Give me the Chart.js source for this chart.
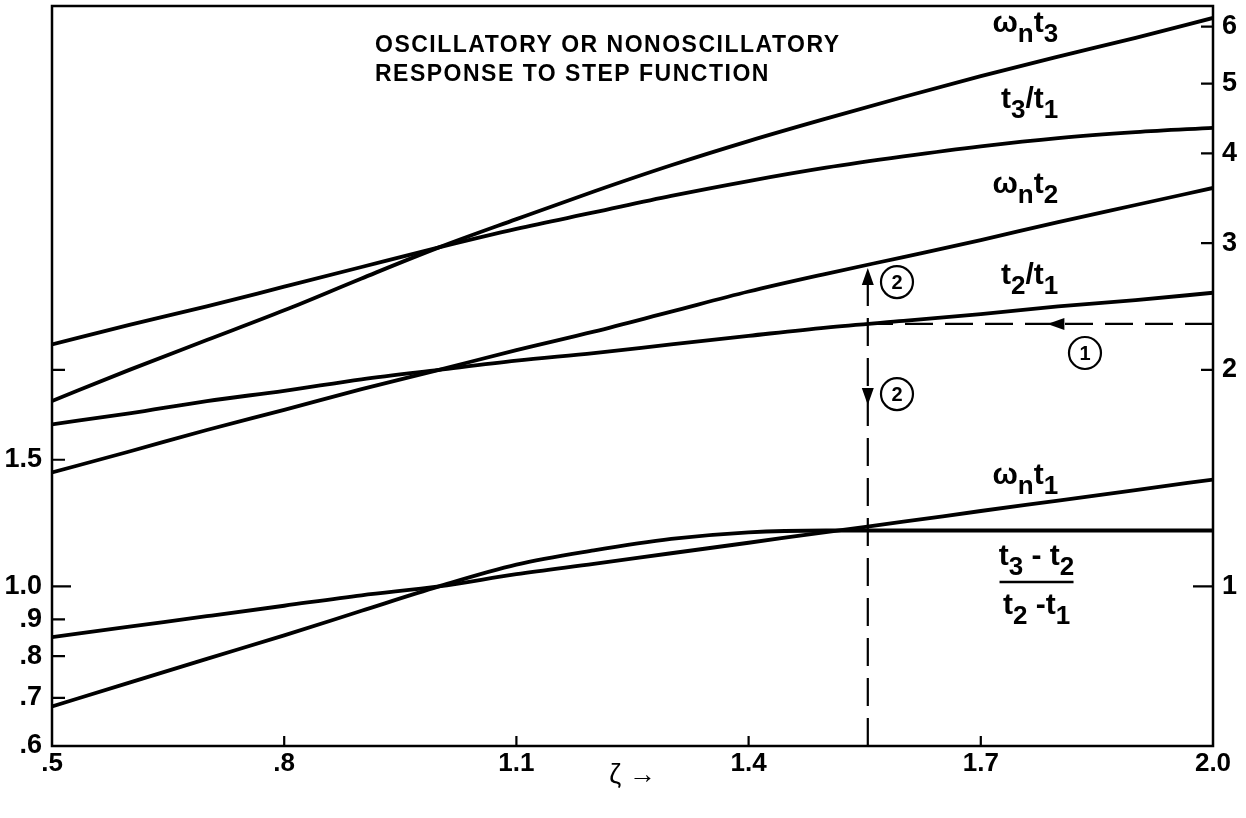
<!DOCTYPE html>
<html>
<head>
<meta charset="utf-8">
<script src="https://cdn.jsdelivr.net/npm/chart.js@4.4.1/dist/chart.umd.min.js"></script>
<style>
html,body{margin:0;padding:0;background:#fff;}
#wrap{width:1246px;height:818px;}
</style>
</head>
<body>
<div id="wrap"><canvas id="c" width="1246" height="818"></canvas></div>
<script>
// ---- data ----
const zeta        = [0.5, 0.6, 0.7, 0.8, 0.9, 1.0, 1.1, 1.2, 1.3, 1.4, 1.5, 1.6, 1.7, 1.8, 1.9, 2.0];
const wnT3        = [1.81, 2.00, 2.20, 2.42, 2.68, 2.96, 3.24, 3.54, 3.85, 4.16, 4.47, 4.79, 5.12, 5.45, 5.79, 6.17];
const t3OverT1    = [2.17, 2.31, 2.45, 2.61, 2.78, 2.96, 3.14, 3.31, 3.49, 3.66, 3.82, 3.96, 4.09, 4.20, 4.28, 4.34];
const wnT2        = [1.44, 1.54, 1.65, 1.76, 1.88, 2.00, 2.13, 2.26, 2.41, 2.57, 2.72, 2.87, 3.03, 3.21, 3.39, 3.58];
const t2OverT1    = [1.68, 1.74, 1.81, 1.87, 1.94, 2.00, 2.06, 2.11, 2.17, 2.23, 2.29, 2.34, 2.39, 2.45, 2.50, 2.56];
const wnT1        = [0.850, 0.879, 0.909, 0.940, 0.972, 1.00, 1.04, 1.075, 1.112, 1.15, 1.19, 1.23, 1.273, 1.316, 1.361, 1.408];
const intervalRatio = [0.681, 0.735, 0.793, 0.855, 0.925, 1.00, 1.072, 1.122, 1.164, 1.189, 1.196, 1.196, 1.196, 1.196, 1.196, 1.196];

const xTicks = [0.5, 0.8, 1.1, 1.4, 1.7, 2.0];
const xTickLabels = ['.5', '.8', '1.1', '1.4', '1.7', '2.0'];
const leftTicks = [0.6, 0.7, 0.8, 0.9, 1.0, 1.5, 2.0];
const leftTickLabels = ['.6', '.7', '.8', '.9', '1.0', '1.5', ''];
const rightTicks = [1, 2, 3, 4, 5, 6];
const rightTickLabels = ['1', '2', '3', '4', '5', '6'];
const yRange = [0.6, 6.41];
const xRange = [0.5, 2.0];

// worked example (dashed guide lines)
const guideZeta = 1.554;      // vertical guide
const guideUpTip = 2.77;      // meets ωn t2
const guideDownTip = 1.787;   // downward arrow
const guideLevel = 2.317;     // horizontal guide (t2/t1)
const guideLeftTip = 1.786;   // ζ of left arrow

const seriesList = [
  {name: 'ωn t3', values: wnT3},
  {name: 't3/t1', values: t3OverT1},
  {name: 'ωn t2', values: wnT2},
  {name: 't2/t1', values: t2OverT1},
  {name: 'ωn t1', values: wnT1},
  {name: '(t3-t2)/(t2-t1)', values: intervalRatio}
];

// ---- styling / annotation layout ----
const FONT = '"Liberation Sans", Arial, Helvetica, sans-serif';
const INK = '#000';

const curveLabels = [
  {parts: [['ω',0],['n',1],['t',0],['3',1]], at: [1.80, 5.90]},
  {parts: [['t',0],['3',1],['/',0],['t',0],['1',1]], at: [1.80, 4.62]},
  {parts: [['ω',0],['n',1],['t',0],['2',1]], at: [1.80, 3.52]},
  {parts: [['t',0],['2',1],['/',0],['t',0],['1',1]], at: [1.80, 2.633]},
  {parts: [['ω',0],['n',1],['t',0],['1',1]], at: [1.80, 1.388]}
];
const fraction = {
  num: [['t',0],['3',1],[' - ',0],['t',0],['2',1]],
  den: [['t',0],['2',1],[' -',0],['t',0],['1',1]],
  cx: 1.772, numY: 1.071, barY: 1.014, denY: 0.915, halfBar: 37
};
const circled = [
  {text: '1', at: [1.8346, 2.111]},
  {text: '2', at: [1.5917, 2.649]},
  {text: '2', at: [1.5917, 1.851]}
];
const titleLines = [
  {text: 'OSCILLATORY OR NONOSCILLATORY', at: [0.9173, 5.53]},
  {text: 'RESPONSE TO STEP FUNCTION', at: [0.9173, 5.05]}
];

function drawRich(ctx, parts, x, y, align) {
  const main = 'bold 30px ' + FONT;
  const sub = 'bold 26px ' + FONT;
  let w = 0;
  parts.forEach(p => { ctx.font = p[1] ? sub : main; w += ctx.measureText(p[0]).width; });
  let cx = align === 'right' ? x - w : (align === 'center' ? x - w / 2 : x);
  ctx.textAlign = 'left';
  ctx.textBaseline = 'alphabetic';
  parts.forEach(p => {
    ctx.font = p[1] ? sub : main;
    ctx.fillText(p[0], cx, y + (p[1] ? 10 : 0));
    cx += ctx.measureText(p[0]).width;
  });
}

function arrowHead(ctx, x, y, dir) {
  const L = 17, H = 6;
  ctx.beginPath();
  ctx.moveTo(x, y);
  if (dir === 'up') { ctx.lineTo(x - H, y + L); ctx.lineTo(x + H, y + L); }
  else if (dir === 'down') { ctx.lineTo(x - H, y - L); ctx.lineTo(x + H, y - L); }
  else { ctx.lineTo(x + L, y - H); ctx.lineTo(x + L, y + H); }
  ctx.closePath();
  ctx.fill();
}

const decor = {
  id: 'decor',
  afterDraw(chart) {
    const {ctx, chartArea: a, scales} = chart;
    const X = v => scales.x.getPixelForValue(v);
    const Y = v => scales.y.getPixelForValue(v);
    ctx.save();
    ctx.strokeStyle = INK; ctx.fillStyle = INK;
    // frame
    ctx.lineWidth = 2.5;
    ctx.strokeRect(a.left, a.top, a.right - a.left, a.bottom - a.top);
    // inward tick marks
    ctx.lineWidth = 2.2;
    ctx.beginPath();
    leftTicks.forEach(v => { const y = Y(v); const len = v === 1 ? 19 : 13; ctx.moveTo(a.left, y); ctx.lineTo(a.left + len, y); });
    rightTicks.forEach(v => { const y = scales.y2.getPixelForValue(v); const len = v === 1 ? 20 : 12; ctx.moveTo(a.right, y); ctx.lineTo(a.right - len, y); });
    xTicks.forEach((v, i) => { if (i === 0 || i === xTicks.length - 1) return; const x = X(v); ctx.moveTo(x, a.bottom); ctx.lineTo(x, a.bottom - 10); });
    ctx.stroke();
    // arrow heads on the guides
    arrowHead(ctx, X(guideZeta), Y(guideUpTip), 'up');
    arrowHead(ctx, X(guideZeta), Y(guideDownTip), 'down');
    arrowHead(ctx, X(guideLeftTip), Y(guideLevel), 'left');
    // circled step numbers
    circled.forEach(c => {
      const x = X(c.at[0]), y = Y(c.at[1]);
      ctx.lineWidth = 2.2;
      ctx.beginPath(); ctx.arc(x, y, 16, 0, Math.PI * 2); ctx.stroke();
      ctx.font = 'bold 20px ' + FONT; ctx.textAlign = 'center'; ctx.textBaseline = 'middle';
      ctx.fillText(c.text, x, y + 1);
    });
    // curve labels
    curveLabels.forEach(l => drawRich(ctx, l.parts, X(l.at[0]), Y(l.at[1]), 'right'));
    // fraction label
    const fx = X(fraction.cx);
    drawRich(ctx, fraction.num, fx, Y(fraction.numY), 'center');
    drawRich(ctx, fraction.den, fx, Y(fraction.denY), 'center');
    ctx.lineWidth = 2.5;
    ctx.beginPath(); ctx.moveTo(fx - fraction.halfBar, Y(fraction.barY)); ctx.lineTo(fx + fraction.halfBar, Y(fraction.barY)); ctx.stroke();
    // title
    ctx.font = 'bold 23px ' + FONT; ctx.textAlign = 'left'; ctx.textBaseline = 'alphabetic';
    try { ctx.letterSpacing = '1.5px'; } catch (e) {}
    titleLines.forEach(t => ctx.fillText(t.text, X(t.at[0]), Y(t.at[1])));
    try { ctx.letterSpacing = '0px'; } catch (e) {}
    ctx.restore();
  }
};

const curveDatasets = seriesList.map(s => ({
  label: s.name,
  data: zeta.map((z, i) => ({x: z, y: s.values[i]})),
  borderColor: INK, borderWidth: 3.8, pointRadius: 0,
  cubicInterpolationMode: 'monotone', fill: false, yAxisID: 'y'
}));
const guideDatasets = [
  {label: 'guide-v', data: [{x: guideZeta, y: yRange[0]}, {x: guideZeta, y: guideUpTip}]},
  {label: 'guide-h', data: [{x: xRange[1], y: guideLevel}, {x: guideZeta, y: guideLevel}]}
].map(d => Object.assign(d, {borderColor: INK, borderWidth: 2.2, borderDash: [28, 12], pointRadius: 0, tension: 0, fill: false, yAxisID: 'y'}));

const tickFont = {family: FONT, size: 27, weight: 'bold'};

new Chart(document.getElementById('c'), {
  type: 'line',
  data: {datasets: curveDatasets.concat(guideDatasets)},
  options: {
    responsive: false, animation: false, devicePixelRatio: 1,
    layout: {padding: {top: 6, bottom: 26, left: 0, right: 0}},
    plugins: {legend: {display: false}, tooltip: {enabled: false}},
    scales: {
      x: {
        type: 'linear', min: xRange[0], max: xRange[1],
        afterBuildTicks: s => { s.ticks = xTicks.map(v => ({value: v})); },
        afterFit: s => { s.height = 46; s.paddingLeft = 0; s.paddingRight = 0; },
        ticks: {callback: (v, i) => xTickLabels[i], font: {family: FONT, size: 26, weight: 'bold'}, color: INK, padding: 2, maxRotation: 0, autoSkip: false},
        grid: {display: false, drawTicks: false},
        border: {display: false},
        title: {display: true, text: 'ζ →', font: {family: FONT, size: 27}, color: INK, padding: 0}
      },
      y: {
        type: 'logarithmic', position: 'left', min: yRange[0], max: yRange[1],
        afterBuildTicks: s => { s.ticks = leftTicks.map(v => ({value: v, major: true})); },
        afterFit: s => { s.width = 52; s.paddingTop = 0; s.paddingBottom = 0; },
        ticks: {callback: (v, i) => leftTickLabels[i], font: tickFont, color: INK, padding: 10, autoSkip: false},
        grid: {display: false, drawTicks: false},
        border: {display: false}
      },
      y2: {
        type: 'logarithmic', position: 'right', min: yRange[0], max: yRange[1],
        afterBuildTicks: s => { s.ticks = rightTicks.map(v => ({value: v, major: true})); },
        afterFit: s => { s.width = 33; s.paddingTop = 0; s.paddingBottom = 0; },
        ticks: {callback: (v, i) => rightTickLabels[i], font: tickFont, color: INK, padding: 9, autoSkip: false},
        grid: {display: false, drawTicks: false},
        border: {display: false}
      }
    }
  },
  plugins: [decor]
});
</script>
</body>
</html>
